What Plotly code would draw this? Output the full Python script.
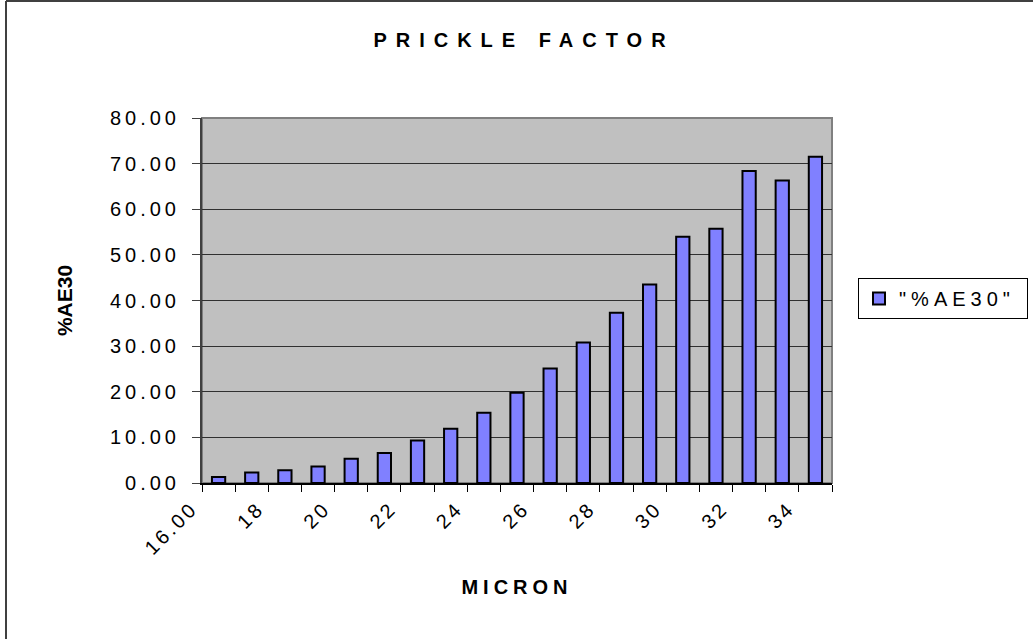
import plotly.graph_objects as go

# micron classes and % AE30
micron = list(range(16, 35))
ae30 = [1.3, 2.3, 2.8, 3.6, 5.3, 6.6, 9.3, 11.9, 15.4, 19.8,
        25.1, 30.8, 37.3, 43.5, 54.0, 55.7, 68.4, 66.3, 71.5]
tick_labels = ["16.00", "18", "20", "22", "24", "26", "28", "30", "32", "34"]
y_ticks = [0, 10, 20, 30, 40, 50, 60, 70, 80]

FONT = "Arial, Liberation Sans, sans-serif"
W, H = 1033, 639
L, R, T, B = 202, 201, 118, 156
pw, ph = W - L - R, H - T - B

fig = go.Figure()
fig.add_trace(go.Bar(
    x=micron, y=ae30, name='"%AE30"', width=0.4,
    marker=dict(color="#8080FF", line=dict(color="black", width=2)),
))

# Excel style: labels sit on the category boundaries
fig.update_xaxes(
    range=[micron[0] - 0.5, micron[-1] + 0.5],
    tickmode="array",
    tickvals=[m - 0.5 for m in micron[::2]],
    ticktext=tick_labels,
    tickangle=-45,
    ticks="outside", ticklen=7, tickcolor="black",
    ticklabelshift=-10, ticklabelstandoff=-3,
    minor=dict(tickmode="linear", tick0=micron[0] - 0.5, dtick=1,
               ticks="outside", ticklen=7, tickcolor="black"),
    showline=True, linecolor="black", linewidth=2,
    showgrid=False, zeroline=False,
    tickfont=dict(family=FONT, size=20, color="black"),
    title=dict(text="<b>MICRON</b>", font=dict(family=FONT, size=20, color="black"), standoff=33),
)
fig.update_yaxes(
    range=[0, 80], tickmode="array", tickvals=y_ticks,
    ticktext=[f"{v:.2f}" for v in y_ticks],
    ticks="outside", ticklen=8, tickcolor="#404040",
    ticklabelstandoff=8,
    showline=True, linecolor="#404040", linewidth=2,
    showgrid=True, gridcolor="#303030", gridwidth=1, zeroline=False,
    tickfont=dict(family=FONT, size=20, color="black"),
    title=dict(text="<b>%AE30</b>", font=dict(family=FONT, size=21, color="black"), standoff=52),
)

# plot area frame and the visible top/left edges of the chart border
fig.add_shape(type="rect", xref="x domain", yref="y domain", x0=0, x1=1, y0=0, y1=1,
              line=dict(color="#808080", width=2), layer="below")
fig.add_shape(type="line", xref="paper", yref="paper",
              x0=(6 - L) / pw, x1=(6 - L) / pw, y0=(H - B - H) / ph, y1=(H - B - 1) / ph,
              line=dict(color="black", width=1.5))
fig.add_shape(type="line", xref="paper", yref="paper",
              x0=(6 - L) / pw, x1=(W - L) / pw, y0=(H - B - 1) / ph, y1=(H - B - 1) / ph,
              line=dict(color="#404040", width=2))

fig.update_layout(
    width=W, height=H,
    margin=dict(l=L, r=R, t=T, b=B),
    paper_bgcolor="white", plot_bgcolor="#C0C0C0",
    title=dict(text="<b>PRICKLE FACTOR</b>", x=(524 - L) / pw, xref="paper", xanchor="center",
               y=1 - 40 / H, yref="container", yanchor="middle",
               font=dict(family=FONT, size=20, color="black")),
    showlegend=True,
    legend=dict(x=(858 - L) / pw, y=(H - B - 278) / ph, xanchor="left", yanchor="top",
                bgcolor="white", bordercolor="black", borderwidth=1,
                font=dict(family=FONT, size=20, color="black")),
    bargap=0.6,
)

# Excel draws these labels with wide letter spacing; widen the legend box to fit,
# and drop the page margin
spacing = """
document.body.style.margin = '0';
var gd = document.getElementById('{plot_id}');
function sp(sel, v) { gd.querySelectorAll(sel).forEach(function (t) { t.style.letterSpacing = v; }); }
sp('.ytick text', '4px');
sp('.xtick text', '3px');
sp('.gtitle', '9px');
sp('.xtitle', '5px');
sp('.legendtext', '5px');
gd.querySelectorAll('.legend [clip-path]').forEach(function (e) { e.removeAttribute('clip-path'); });
gd.querySelectorAll('.legend rect.bg').forEach(function (r) { r.setAttribute('width', '169'); });
"""

fig.write_html("out.html", post_script=spacing, config={"displayModeBar": False})
